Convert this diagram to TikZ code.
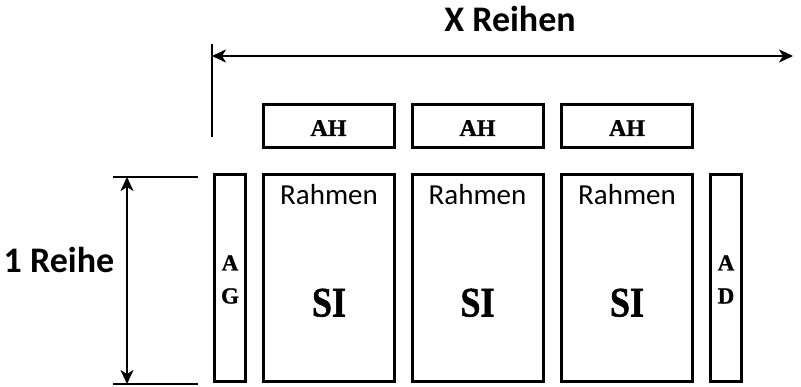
\documentclass[tikz,border=0pt]{standalone}
\usepackage{fontspec}
\setmainfont{Liberation Serif}
\newfontfamily\calibri{Carlito}
\newfontfamily\heavyserif[BoldFeatures={FakeBold=1.2}]{Liberation Serif}
\newfontfamily\narrowserif[FakeStretch=0.86,BoldFeatures={FakeBold=1.2}]{Liberation Serif}
\usetikzlibrary{arrows.meta}
\tikzset{
  box/.style={draw, line width=3pt, inner sep=0pt, minimum width=131pt},
  ahbox/.style={box, minimum height=43pt},
  sibox/.style={box, minimum height=207pt},
  sidebox/.style={box, minimum width=31pt, minimum height=207pt},
  ahtext/.style={font=\heavyserif\bfseries\fontsize{24}{26}\selectfont, anchor=base, inner sep=0pt},
  sitext/.style={font=\narrowserif\bfseries\fontsize{42}{46}\selectfont, anchor=base, inner sep=0pt},
  rtext/.style={font=\calibri\fontsize{29}{32}\selectfont, anchor=base, inner sep=0pt},
  lettertext/.style={font=\heavyserif\bfseries\fontsize{23}{26}\selectfont, anchor=base, inner sep=0pt},
  bigtext/.style={font=\calibri\bfseries\fontsize{36}{40}\selectfont, anchor=base, inner sep=0pt},
  dim/.style={line width=2pt, {Stealth[length=14pt,width=13pt,inset=4pt]}-{Stealth[length=14pt,width=13pt,inset=4pt]}},
  extline/.style={line width=1.5pt},
}
\begin{document}
\begin{tikzpicture}[x=1pt,y=-1pt]
\useasboundingbox (0,0) rectangle (801,387);

% top boxes AH
\node[ahbox] (ah1) at (328.5,126) {};
\node[ahbox] (ah2) at (477.5,126) {};
\node[ahbox] (ah3) at (627,126) {};
\foreach \n in {ah1,ah2,ah3}{
  \node[ahtext] at ([yshift=-10pt]\n.center) {AH};
}

% main boxes SI
\node[sibox] (si1) at (329,278) {};
\node[sibox] (si2) at (477.5,278) {};
\node[sibox] (si3) at (627,278) {};
\foreach \n in {si1,si2,si3}{
  \node[rtext] at ([yshift=-31.5pt]\n.north) {Rahmen};
  \node[sitext] at ([yshift=-143.5pt]\n.north) {SI};
}

% side boxes
\node[sidebox] (ag) at (230,278) {};
\node[sidebox] (ad) at (726,278) {};
\node[lettertext] at ([yshift=-97.5pt]ag.north) {A};
\node[lettertext] at ([yshift=-130.5pt]ag.north) {G};
\node[lettertext] at ([yshift=-97.5pt]ad.north) {A};
\node[lettertext] at ([yshift=-130.5pt]ad.north) {D};

% X Reihen dimension
\coordinate (vtop) at (212,44);
\coordinate (vbot) at (212,137);
\coordinate (xl) at (212,56);
\coordinate (xr) at (793,56);
\draw[line width=2pt] (vtop) -- (vbot);
\draw[dim] (xl) -- (xr);
\node[bigtext] (xlabel) at (510,32) {X Reihen};

% 1 Reihe dimension
\coordinate (t1) at (113,177);
\coordinate (t2) at (198,177);
\coordinate (b1) at (113,384);
\coordinate (b2) at (198,384);
\coordinate (yt) at (127,177);
\coordinate (yb) at (127,384);
\draw[extline] (t1) -- (t2);
\draw[extline] (b1) -- (b2);
\draw[dim] (yt) -- (yb);
\node[bigtext] (ylabel) at (59,273) {1 Reihe};
\end{tikzpicture}
\end{document}
